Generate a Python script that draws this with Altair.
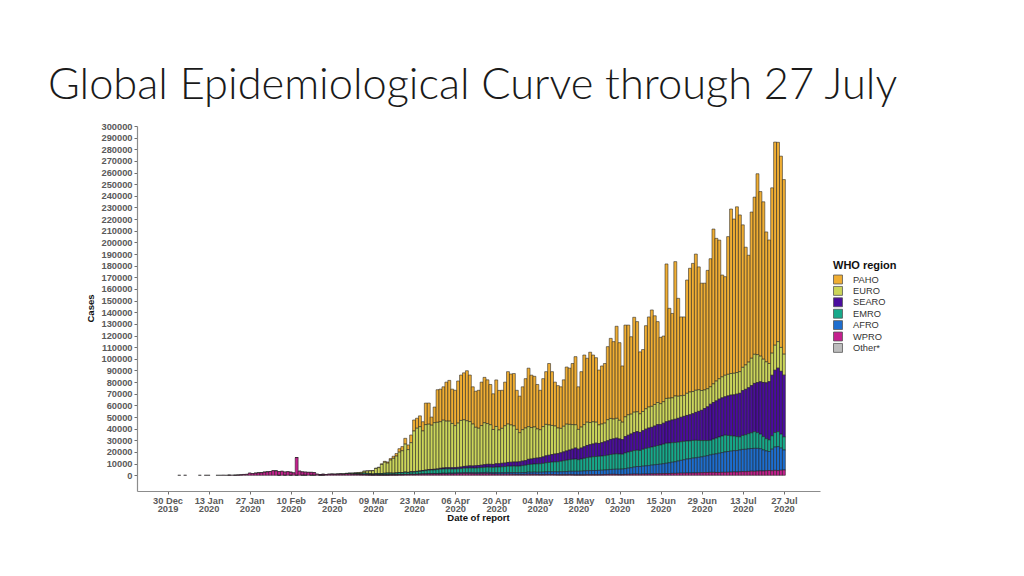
import altair as alt
import pandas as pd

title_text = "Global Epidemiological Curve through 27 July"
regions = ["PAHO", "EURO", "SEARO", "EMRO", "AFRO", "WPRO", "Other*"]
colors = ["#F0AE33", "#CCD65A", "#4A0C9E", "#17A98B", "#1D6ECF", "#C4208E", "#BDBDBD"]

tick_dates = ["2019-12-30", "2020-01-13", "2020-01-27", "2020-02-10", "2020-02-24",
              "2020-03-09", "2020-03-23", "2020-04-06", "2020-04-20", "2020-05-04",
              "2020-05-18", "2020-06-01", "2020-06-15", "2020-06-29", "2020-07-13",
              "2020-07-27"]
y_ticks = list(range(0, 300001, 10000))

# sporadic early reports (thousands of cases)
early_days = ["2020-01-03", "2020-01-05", "2020-01-10", "2020-01-12", "2020-01-13"]
early_wpro = [0.04, 0.06, 0.04, 0.04, 0.04]

# daily reports from 16 Jan to 27 Jul 2020, thousands of cases, one row per week
first_report = "2020-01-16"

wpro = [0.01, 0.02, 0.14, 0.02, 0.15, 0.15, 0.10,
        0.26, 0.45, 0.69, 0.77, 1.77, 1.46, 1.74,
        1.98, 2.10, 2.60, 2.83, 3.24, 3.90, 3.70,
        3.14, 3.40, 2.66, 3.06, 2.48, 2.02, 15.15,
        3.50, 2.80, 2.60, 2.50, 2.40, 2.20, 0.90,
        0.60, 0.80, 0.60, 0.80, 0.80, 0.70, 0.80,
        0.90, 0.80, 1.10, 1.10, 0.80, 0.80, 0.70,
        0.60, 0.60, 0.50, 0.40, 0.30, 0.40, 0.30,
        0.30, 0.30, 0.30, 0.40, 0.40, 0.40, 0.50,
        0.50, 0.60, 0.60, 0.70, 0.60, 0.70, 0.80,
        0.90, 0.90, 1.00, 1.00, 1.10, 1.00, 1.10,
        1.20, 1.10, 1.20, 1.10, 1.20, 1.30, 1.30,
        1.40, 1.40, 1.40, 1.30, 1.20, 1.20, 1.30,
        1.30, 1.40, 1.20, 1.10, 1.10, 1.00, 1.00,
        1.00, 1.00, 0.90, 0.80, 0.70, 0.70, 0.70,
        0.80, 0.90, 0.80, 0.80, 0.70, 0.60, 0.60,
        0.70, 0.70, 0.70, 0.60, 0.50, 0.50, 0.50,
        0.50, 0.60, 0.50, 0.40, 0.40, 0.40, 0.40,
        0.50, 0.50, 0.50, 0.50, 0.50, 0.50, 0.60,
        0.70, 0.80, 0.80, 0.70, 0.60, 0.60, 0.70,
        0.80, 0.90, 1.00, 1.00, 0.90, 1.00, 1.10,
        1.10, 1.20, 1.20, 1.30, 1.30, 1.40, 1.50,
        1.50, 1.60, 1.60, 1.70, 1.80, 1.80, 1.90,
        1.90, 2.00, 2.00, 2.10, 2.20, 2.30, 2.40,
        2.50, 2.50, 2.40, 2.40, 2.50, 2.50, 2.60,
        2.70, 2.90, 2.80, 3.00, 3.20, 3.10, 3.30,
        3.50, 3.40, 3.60, 3.80, 3.70, 3.90, 4.10,
        3.90, 4.20, 4.00, 4.30, 4.50]

afro = [0] * 47 + [0.002, 0.003,
        0.01, 0.01, 0.01, 0.01, 0.01, 0.02, 0.02,
        0.03, 0.03, 0.05, 0.05, 0.06, 0.08, 0.10,
        0.10, 0.15, 0.15, 0.20, 0.20, 0.20, 0.25,
        0.30, 0.30, 0.35, 0.30, 0.40, 0.50, 0.50,
        0.60, 0.60, 0.70, 0.70, 0.70, 0.80, 0.80,
        0.90, 0.90, 0.90, 0.90, 0.90, 1.00, 1.00,
        1.10, 1.10, 1.10, 1.10, 1.20, 1.20, 1.30,
        1.30, 1.40, 1.40, 1.50, 1.50, 1.50, 1.60,
        1.60, 1.80, 1.80, 1.90, 1.90, 2.00, 2.10,
        2.20, 2.30, 2.30, 2.40, 2.40, 2.50, 2.60,
        2.70, 2.80, 2.90, 3.00, 3.00, 3.10, 3.30,
        3.40, 3.50, 3.60, 3.60, 3.70, 3.80, 3.90,
        4.00, 4.20, 4.30, 4.50, 4.60, 4.70, 5.00,
        5.30, 5.60, 6.00, 6.50, 6.60, 6.80, 7.00,
        7.20, 7.50, 7.80, 8.00, 8.20, 8.50, 8.80,
        9.20, 9.60, 10.0, 10.5, 11.0, 11.5, 12.0,
        12.3, 12.7, 13.0, 13.3, 13.6, 14.0, 14.4,
        15.0, 15.5, 16.0, 16.5, 17.0, 17.5, 17.8,
        18.0, 18.2, 18.4, 18.7, 19.0, 19.2, 19.4,
        19.5, 19.7, 19.5, 19.0, 18.0, 17.0, 16.3,
        18.5, 20.0, 20.6, 19.0, 17.2]

emro = [0] * 35 + [0.002, 0.003, 0.02, 0.03, 0.05, 0.08, 0.10,
        0.10, 0.10, 0.15, 0.20, 0.40, 0.50, 0.60,
        0.60, 1.20, 1.10, 0.80, 0.70, 0.90, 1.00,
        1.10, 1.30, 1.40, 1.30, 1.20, 1.40, 1.60,
        1.50, 1.80, 1.60, 1.80, 1.90, 2.20, 2.30,
        2.50, 2.80, 3.00, 3.20, 3.10, 3.40, 3.60,
        3.60, 3.80, 3.60, 3.50, 3.50, 3.40, 3.60,
        3.80, 3.90, 4.00, 4.00, 4.10, 4.20, 4.30,
        4.40, 4.50, 4.60, 4.60, 4.80, 4.90, 5.00,
        5.20, 5.40, 5.50, 5.60, 5.60, 5.70, 6.00,
        6.20, 6.50, 6.80, 7.00, 7.20, 7.30, 7.50,
        7.80, 8.00, 8.30, 8.50, 8.70, 9.00, 9.40,
        9.70, 10.0, 10.3, 10.5, 10.0, 10.4, 10.8,
        11.2, 11.5, 11.8, 12.0, 12.1, 12.2, 12.3,
        12.5, 12.8, 13.0, 13.2, 13.0, 12.8, 13.5,
        13.8, 14.0, 14.2, 14.0, 13.8, 14.5, 15.0,
        15.3, 15.5, 15.8, 16.2, 16.5, 16.8, 17.2,
        17.0, 16.8, 16.5, 16.2, 16.0, 15.8, 15.5,
        15.3, 15.2, 15.0, 14.5, 14.0, 13.5, 13.0,
        12.5, 13.0, 13.5, 14.0, 14.2, 14.4, 13.8,
        13.2, 12.5, 12.0, 11.3, 12.0, 12.5, 13.0,
        13.5, 14.3, 13.5, 12.5, 11.5, 10.5, 10.0,
        11.5, 12.5, 12.8, 12.0, 11.3]

searo = [0] * 47 + [0.01, 0.02,
         0.02, 0.02, 0.02, 0.03, 0.02, 0.02, 0.04,
         0.06, 0.05, 0.10, 0.10, 0.10, 0.10, 0.15,
         0.15, 0.20, 0.20, 0.30, 0.30, 0.30, 0.40,
         0.40, 0.50, 0.50, 0.50, 0.60, 0.60, 0.80,
         0.90, 1.00, 1.00, 1.20, 1.20, 1.30, 1.40,
         1.50, 1.60, 1.80, 1.80, 2.00, 2.00, 2.10,
         2.30, 2.40, 2.50, 2.50, 2.80, 2.80, 3.00,
         3.00, 3.20, 3.40, 3.50, 3.60, 3.70, 3.90,
         4.00, 4.50, 4.60, 4.80, 5.00, 5.20, 5.60,
         6.00, 6.20, 6.50, 6.80, 7.00, 7.30, 7.60,
         8.00, 8.30, 8.80, 9.50, 9.00, 9.50, 10.0,
         10.5, 10.8, 11.0, 11.5, 11.0, 11.5, 12.0,
         12.5, 13.0, 13.2, 13.5, 13.0, 12.5, 14.0,
         14.5, 15.0, 15.5, 16.0, 15.5, 16.0, 16.5,
         17.0, 17.0, 17.5, 18.0, 17.5, 18.0, 18.5,
         19.0, 19.5, 20.0, 20.5, 21.0, 21.5, 22.0,
         22.5, 23.0, 24.0, 25.0, 26.0, 27.5, 29.0,
         31.0, 31.5, 32.0, 32.5, 32.8, 33.0, 34.0,
         35.0, 35.5, 36.5, 37.4, 38.5, 39.0, 39.5,
         40.5, 41.5, 43.0, 45.0, 46.5, 48.0, 50.0,
         52.0, 53.5, 54.6, 54.0, 53.0]

euro = [0, 0, 0, 0, 0, 0, 0,
        0, 0.003, 0, 0, 0.001, 0.003, 0.001,
        0.003, 0.005, 0.002, 0.001, 0.001, 0.001, 0.002,
        0.003, 0.005, 0.001, 0.003, 0.002, 0.001, 0.001,
        0.002, 0.001, 0.001, 0.001, 0.001, 0.001, 0.001,
        0.001, 0.005, 0.02, 0.05, 0.08, 0.10, 0.12,
        0.15, 0.25, 0.35, 0.50, 0.60, 0.70, 0.90,
        1.20, 1.60, 2.00, 2.50, 2.80, 4.50, 5.20,
        7.80, 9.50, 8.60, 11.2, 12.8, 14.5, 17.5,
        18.8, 24.0, 19.5, 25.0, 35.0, 37.0, 38.0,
        34.0, 39.0, 39.0, 38.0, 40.0, 40.0, 40.0,
        41.0, 40.0, 40.0, 38.0, 36.0, 38.0, 40.0,
        40.0, 39.0, 38.0, 36.0, 33.0, 32.0, 34.0,
        36.0, 35.0, 34.0, 30.0, 32.0, 29.0, 30.0,
        32.0, 33.0, 32.0, 31.0, 28.0, 25.0, 27.0,
        28.0, 28.0, 27.0, 27.0, 25.0, 24.0, 26.0,
        27.0, 26.0, 25.0, 24.0, 22.0, 21.0, 22.0,
        23.0, 22.0, 21.0, 20.0, 17.0, 18.0, 19.0,
        20.0, 19.0, 19.0, 18.0, 16.0, 16.0, 16.0,
        18.0, 18.0, 17.0, 17.0, 16.0, 15.0, 17.0,
        17.5, 17.0, 17.5, 17.0, 16.0, 16.5, 17.5,
        18.0, 18.0, 18.5, 19.0, 18.0, 18.5, 20.0,
        19.5, 19.0, 20.0, 19.0, 18.5, 18.0, 19.0,
        19.5, 19.0, 19.0, 18.5, 17.0, 16.0, 15.5,
        15.0, 16.0, 17.0, 17.5, 18.0, 18.5, 18.5,
        18.5, 18.5, 18.5, 18.6, 20.0, 21.0, 22.0,
        23.5, 25.0, 24.0, 22.0, 20.0, 18.0, 15.6,
        19.0, 21.5, 22.8, 20.5, 18.0]

paho = [0, 0, 0, 0, 0.001, 0, 0.001,
        0.001, 0, 0.001, 0.002, 0, 0, 0.001,
        0.001, 0.001, 0.002, 0.001, 0, 0, 0.001,
        0, 0, 0, 0, 0.001, 0, 0.001,
        0, 0, 0, 0, 0, 0, 0,
        0, 0, 0, 0, 0.001, 0.001, 0.002,
        0.01, 0.01, 0.02, 0.02, 0.03, 0.03, 0.05,
        0.08, 0.10, 0.12, 0.15, 0.20, 0.30, 0.40,
        0.60, 0.80, 1.00, 1.30, 1.80, 2.20, 3.00,
        3.60, 5.00, 4.00, 6.60, 9.50, 8.60, 9.30,
        7.90, 18.5, 18.2, 7.00, 13.4, 28.0, 28.0,
        28.7, 33.5, 35.0, 29.5, 30.4, 36.2, 39.0,
        40.4, 43.0, 40.0, 32.0, 31.0, 32.6, 37.3,
        39.0, 37.6, 34.6, 30.7, 40.0, 34.0, 32.7,
        37.5, 45.0, 43.8, 45.0, 33.6, 31.4, 36.8,
        42.4, 50.3, 45.0, 43.5, 38.2, 33.9, 41.2,
        45.3, 52.8, 46.2, 37.7, 36.4, 35.7, 39.9,
        49.1, 48.3, 52.5, 58.5, 36.6, 47.6, 59.8,
        54.9, 60.4, 57.4, 55.4, 47.1, 49.9, 51.2,
        62.8, 68.8, 66.5, 79.1, 66.7, 48.3, 78.8,
        77.1, 66.5, 81.5, 77.5, 53.2, 53.2, 71.4,
        77.4, 82.8, 76.2, 69.5, 57.0, 56.4, 115.5,
        77.2, 72.5, 115.4, 84.1, 67.7, 67.4, 97.3,
        106.3, 110.1, 117.0, 105.6, 92.2, 91.7, 101.7,
        110.0, 133.0, 122.6, 119.1, 87.5, 84.7, 118.3,
        141.3, 132.5, 142.4, 134.6, 122.4, 101.1, 91.8,
        125.6, 135.0, 155.4, 141.4, 135.2, 111.6, 106.1,
        142.0, 174.5, 171.2, 164.3, 150.0]

other = [0] * 21 + [0.01, 0, 0.06, 0, 0.07, 0, 0.04,
                    0, 0.07, 0.07, 0, 0.09, 0.08, 0,
                    0.01, 0.01, 0, 0, 0, 0, 0] + [0] * 152

series = {"PAHO": paho, "EURO": euro, "SEARO": searo, "EMRO": emro,
          "AFRO": afro, "WPRO": wpro, "Other*": other}
for name, vals in series.items():
    assert len(vals) == 194, (name, len(vals))

# ---- long table -------------------------------------------------------------
dates = pd.date_range(first_report, periods=194, freq="D")
rows = []
for reg, vals in series.items():
    for d, v in zip(dates, vals):
        if v > 0:
            rows.append((d, reg, v * 1000))
for d, v in zip(pd.to_datetime(early_days), early_wpro):
    rows.append((d, "WPRO", v * 1000))
df = pd.DataFrame(rows, columns=["date", "region", "cases"])

epoch = pd.Timestamp("1970-01-01")
DAY = 86400000
ms = (df["date"] - epoch) // pd.Timedelta(milliseconds=1)
df["day"] = ms
df["start"] = ms - DAY // 2
df["end"] = ms + DAY // 2
df["ord"] = df["region"].map({r: len(regions) - 1 - i for i, r in enumerate(regions)})
df = df.drop(columns="date")

tick_ms = [int((pd.Timestamp(t) - epoch) // pd.Timedelta(milliseconds=1)) for t in tick_dates]
base = tick_ms[0]
x_domain = [base - int(10.4 * DAY), base + int(222.3 * DAY)]

W, H = 683, 365

bars = alt.Chart(df).transform_stack(
    stack="cases", groupby=["day"], as_=["y0", "y1"],
    sort=[alt.SortField("ord", order="ascending")],
).mark_bar(stroke="#202020", strokeWidth=0.55).encode(
    x=alt.X("start:T",
            scale=alt.Scale(type="utc", domain=x_domain),
            axis=alt.Axis(values=tick_ms,
                          labelExpr="[utcFormat(datum.value, '%d %b'), utcFormat(datum.value, '%Y')]",
                          labelFont="Liberation Sans", labelFontWeight="bold",
                          labelFontSize=9.3, labelColor="#5a5a5a", labelLineHeight=8.4,
                          labelPadding=2, labelFlush=False, labelOverlap=False,
                          tickColor="#6e6e6e", tickSize=3, grid=False,
                          domainColor="#8c8c8c", domainWidth=1.2,
                          title="Date of report", titleFont="Liberation Sans",
                          titleFontWeight="bold", titleFontSize=9.5, titleColor="#111",
                          titleX=341, titleY=26.5, titleBaseline="middle")),
    x2="end:T",
    y=alt.Y("y0:Q",
            scale=alt.Scale(domain=[-13500, 300000], nice=False, zero=False),
            axis=alt.Axis(values=y_ticks, format="d",
                          labelFont="Liberation Sans", labelFontWeight="bold",
                          labelFontSize=9.3, labelColor="#5a5a5a", labelPadding=2,
                          labelOverlap=False, labelFlush=False,
                          tickColor="#6e6e6e", tickSize=3, grid=False,
                          domainColor="#8c8c8c", domainWidth=1.2,
                          title="Cases", titleFont="Liberation Sans",
                          titleFontWeight="bold", titleFontSize=9.5, titleColor="#111",
                          titleX=-42, titleY=182, titleAngle=270,
                          titleBaseline="bottom", titleAlign="center")),
    y2="y1:Q",
    color=alt.Color("region:N",
                    scale=alt.Scale(domain=regions, range=colors),
                    legend=alt.Legend(title="WHO region", orient="none",
                                      legendX=696, legendY=134,
                                      titleFont="Liberation Sans", titleFontWeight="bold",
                                      titleFontSize=11, titleColor="#111", titlePadding=3,
                                      labelFont="Liberation Sans", labelFontSize=9.3,
                                      labelColor="#333", labelOffset=10,
                                      symbolType="square", symbolSize=80,
                                      symbolStrokeColor="#555", symbolStrokeWidth=0.8,
                                      symbolOpacity=1, clipHeight=11, rowPadding=0.4)),
)

title_layer = alt.Chart(pd.DataFrame({"t": [title_text]})).mark_text(
    align="left", baseline="alphabetic", font="Lato", fontSize=43.4,
    fontWeight=300, color="#1a1a1a",
).encode(x=alt.value(-89), y=alt.value(-26.7), text="t:N")

chart = alt.layer(bars, title_layer).properties(
    width=W, height=H,
    autosize=alt.AutoSizeParams(type="none"),
    padding={"left": 129, "top": 118, "right": 190, "bottom": 60},
    background="white",
).configure_view(strokeWidth=0)

chart.save("out.html", embed_options={"renderer": "svg", "actions": False})
